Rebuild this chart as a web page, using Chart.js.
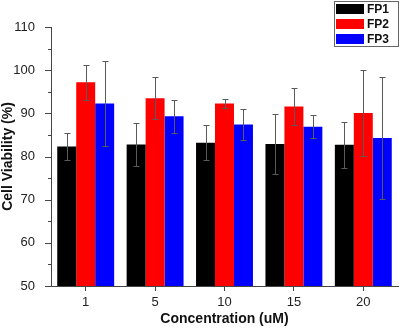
<!DOCTYPE html>
<html>
<head>
<meta charset="utf-8">
<script src="https://cdn.jsdelivr.net/npm/chart.js@4/dist/chart.umd.min.js"></script>
<style>
  html, body { margin: 0; padding: 0; background: #fff; }
  #wrap { width: 400px; height: 329px; }
</style>
</head>
<body>
<div id="wrap"><canvas id="viabilityChart" width="400" height="329"></canvas></div>
<script>
// Concentration groups
const concentrations = ['1', '5', '10', '15', '20'];

// Mean viability (%) per formulation
const fp1 = [82.3, 82.8, 83.2, 82.9, 82.7];
const fp2 = [97.2, 93.5, 92.3, 91.6, 90.1];
const fp3 = [92.3, 89.3, 87.4, 86.9, 84.3];

// Standard deviations
const fp1Err = [3.2, 5.0, 4.0, 7.0, 5.4];
const fp2Err = [4.0, 4.9, 1.0, 4.2, 9.9];
const fp3Err = [9.8, 3.9, 3.5, 2.7, 14.2];

const yTicksMajor = [50, 60, 70, 80, 90, 100, 110];

const font = 'Arial, "Liberation Sans", sans-serif';

// Draw the error bars on top of each bar
const errorBars = {
  id: 'errorBars',
  afterDatasetsDraw(chart) {
    const ctx = chart.ctx;
    const y = chart.scales.y;
    ctx.save();
    ctx.strokeStyle = '#5a5a5a';
    ctx.lineWidth = 1;
    chart.data.datasets.forEach((ds, i) => {
      const meta = chart.getDatasetMeta(i);
      meta.data.forEach((bar, j) => {
        const v = ds.data[j];
        const e = ds.errors[j];
        const top = Math.round(y.getPixelForValue(v + e)) + 0.5;
        const bot = Math.round(y.getPixelForValue(v - e)) + 0.5;
        const x = Math.round(bar.x) + 0.5;
        ctx.beginPath();
        ctx.moveTo(x, top);
        ctx.lineTo(x, bot);
        ctx.moveTo(x - 3, top);
        ctx.lineTo(x + 3, top);
        ctx.moveTo(x - 3, bot);
        ctx.lineTo(x + 3, bot);
        ctx.stroke();
      });
    });
    ctx.restore();
  }
};

// Y axis major/minor ticks pointing outward
const yTickMarks = {
  id: 'yTickMarks',
  afterDraw(chart) {
    const ctx = chart.ctx;
    const y = chart.scales.y;
    const left = chart.chartArea.left;
    ctx.save();
    ctx.strokeStyle = '#444';
    ctx.lineWidth = 1;
    for (let v = y.min; v <= y.max; v += 5) {
      const py = Math.round(y.getPixelForValue(v)) + 0.5;
      const len = yTicksMajor.includes(v) ? 6 : 3;
      ctx.beginPath();
      ctx.moveTo(left - len, py);
      ctx.lineTo(left, py);
      ctx.stroke();
    }
    ctx.restore();
  }
};

// Boxed legend in the top right corner
const boxLegend = {
  id: 'boxLegend',
  afterDraw(chart) {
    const ctx = chart.ctx;
    const x0 = 334, y0 = 1, w = 65, h = 46;
    ctx.save();
    ctx.fillStyle = '#fff';
    ctx.fillRect(x0, y0, w, h);
    ctx.strokeStyle = '#666';
    ctx.lineWidth = 1;
    ctx.strokeRect(x0 + 0.5, y0 + 0.5, w - 1, h - 1);
    ctx.font = 'bold 12px ' + font;
    ctx.textBaseline = 'middle';
    chart.data.datasets.forEach((ds, i) => {
      const cy = 9 + i * 15;
      ctx.fillStyle = ds.backgroundColor;
      ctx.fillRect(336, cy - 5, 28, 10);
      ctx.fillStyle = '#111';
      ctx.fillText(ds.label, 367, cy + 0.5);
    });
    ctx.restore();
  }
};

new Chart(document.getElementById('viabilityChart'), {
  type: 'bar',
  data: {
    labels: concentrations,
    datasets: [
      { label: 'FP1', data: fp1, errors: fp1Err, backgroundColor: '#000000' },
      { label: 'FP2', data: fp2, errors: fp2Err, backgroundColor: '#ff0000' },
      { label: 'FP3', data: fp3, errors: fp3Err, backgroundColor: '#0000ff' }
    ]
  },
  options: {
    responsive: false,
    animation: false,
    layout: { padding: { top: 27, right: 2, left: 0, bottom: 0 } },
    datasets: {
      bar: { categoryPercentage: 0.82, barPercentage: 1.0, borderWidth: 0 }
    },
    plugins: {
      legend: { display: false },
      tooltip: { enabled: false }
    },
    scales: {
      x: {
        grid: { display: true, drawOnChartArea: false, offset: false, tickLength: 5, color: '#444' },
        border: { display: true, color: '#444' },
        ticks: { color: '#222', font: { family: font, size: 13 }, padding: 4 },
        title: {
          display: true,
          text: 'Concentration (uM)',
          color: '#111',
          font: { family: font, size: 14, weight: 'bold' },
          padding: { top: 2, bottom: 1 }
        },
        afterFit(scale) { scale.height = 43; }
      },
      y: {
        min: 50,
        max: 110,
        grid: { display: false },
        border: { display: true, color: '#444' },
        ticks: {
          stepSize: 10,
          color: '#222',
          padding: 8,
          font: { family: font, size: 13 }
        },
        title: {
          display: true,
          text: 'Cell Viability (%)',
          color: '#111',
          font: { family: font, size: 14, weight: 'bold' },
          padding: { top: 0, bottom: 0 }
        },
        afterFit(scale) { scale.width = 51; }
      }
    }
  },
  plugins: [errorBars, yTickMarks, boxLegend]
});
</script>
</body>
</html>
